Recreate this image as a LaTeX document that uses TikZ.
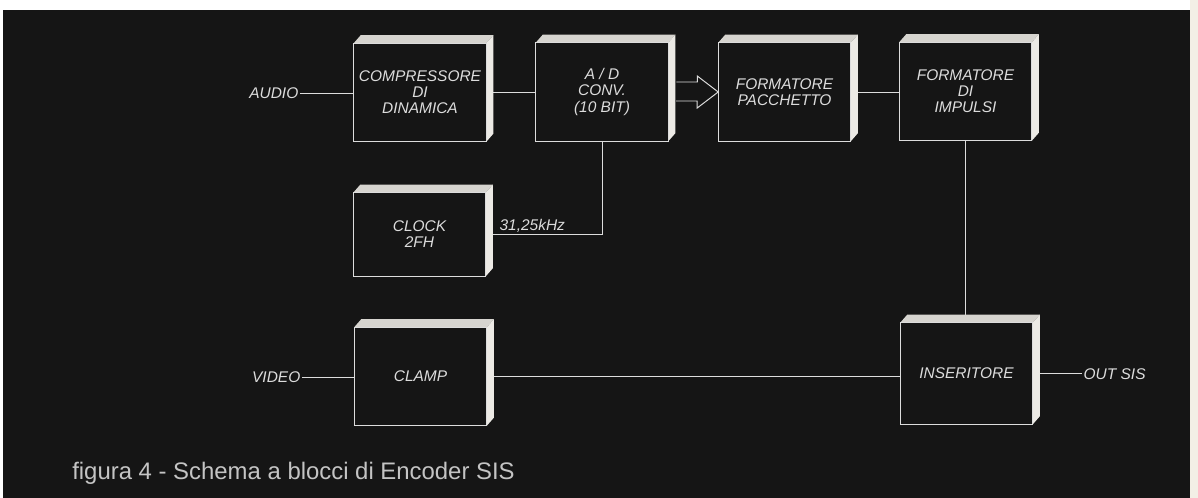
\documentclass[tikz,border=0pt]{standalone}
\usepackage{fontspec}
\setsansfont{Liberation Sans}
\usepackage{tikz}
\usetikzlibrary{calc}
\definecolor{panelcolor}{HTML}{151515}
\definecolor{inkcolor}{HTML}{DCDCDC}
\definecolor{captioncolor}{HTML}{C4C4C4}
\definecolor{topcolor}{HTML}{D6D4CF}
\definecolor{sidecolor}{HTML}{ECEAE5}
\definecolor{papercolor}{HTML}{F3EFE6}

% lit top and right faces of a block
\newcommand{\blockfaces}[1]{%
  \fill[topcolor] (#1.north west) -- ($(#1.north west)+(7,-8)$) -- ($(#1.north east)+(7,-8)$) -- (#1.north east) -- cycle;
  \fill[sidecolor] (#1.north east) -- ($(#1.north east)+(7,-8)$) -- ($(#1.south east)+(7,-8)$) -- (#1.south east) -- cycle;
  \draw[inkcolor, line width=0.6pt] (#1.north west) rectangle (#1.south east);}

\begin{document}
\begin{tikzpicture}[x=0.025cm, y=-0.025cm,
    block/.style={fill=panelcolor, text=inkcolor, align=center, inner sep=0pt,
      minimum width=3.3cm, minimum height=2.45cm,
      font=\sffamily\itshape\fontsize{11}{11.5}\selectfont},
    wire/.style={draw=inkcolor, line width=0.7pt},
    lbl/.style={text=inkcolor, inner sep=1pt,
      font=\sffamily\itshape\fontsize{11}{11.5}\selectfont}]
    \useasboundingbox (0, 0) rectangle (1198, 498);
    % Paper and panel
    \fill[white] (0, 0) rectangle (1198, 498);
    \fill[papercolor] (1190, 0) rectangle (1198, 498);
    \fill[panelcolor] (3, 10) rectangle (1190, 498);
    % Blocks
    \node[block] (comp) at (420, 92.5) {COMPRESSORE\\DI\\DINAMICA};
    \node[block] (adc) at (602, 92) {A / D\\CONV.\\(10 BIT)};
    \node[block] (pkt) at (784.5, 92) {FORMATORE\\PACCHETTO};
    \node[block] (imp) at (965.5, 91.5) {FORMATORE\\DI\\IMPULSI};
    \node[block, minimum height=2.075cm] (clk) at (419.5, 234.5) {CLOCK\\2FH};
    \node[block] (clamp) at (420.5, 376.5) {CLAMP};
    \node[block, minimum height=2.525cm] (ins) at (966.5, 373.5) {INSERITORE};
    % Inputs and output
    \node[lbl, anchor=east] (audio) at (300, 93) {AUDIO};
    \node[lbl, anchor=east] (video) at (302, 377) {VIDEO};
    \node[lbl, anchor=west] (out) at (1082, 374) {OUT SIS};
    % Wires
    \draw[wire] (audio.east) -- (audio.east -| comp.west);
    \draw[wire] (comp.east) -- (comp.east -| adc.west);
    \draw[wire] (adc.south) |- (clk.east)
      node[lbl, pos=0.8, above, font=\sffamily\itshape\fontsize{11}{11.5}\selectfont] (freq) {31,25kHz};
    \draw[wire] (pkt.east) -- (pkt.east -| imp.west);
    \draw[wire] (imp.south) -- (imp.south |- ins.north);
    \draw[wire] (video.east) -- (video.east -| clamp.west);
    \draw[wire] (clamp.east) -- (clamp.east -| ins.west);
    \draw[wire] (ins.east) -- (ins.east -| out.west);
    % Bus arrow
    \draw[wire, line join=miter] (adc.east) ++(8, -10) -- ++(21, 0) -- ++(0, -6)
      -- (pkt.west) -- ++(-21, 16) -- ++(0, -7) -- ++(-21, 0);
    % Faces
    \blockfaces{comp}
    \blockfaces{adc}
    \blockfaces{pkt}
    \blockfaces{imp}
    \blockfaces{clk}
    \blockfaces{clamp}
    \blockfaces{ins}
    % Caption
    \node[anchor=base west, inner sep=0pt, text=captioncolor,
      font=\sffamily\fontsize{17}{20}\selectfont] (caption) at (72, 479)
      {figura 4 - Schema a blocci di Encoder SIS};
\end{tikzpicture}
\end{document}
